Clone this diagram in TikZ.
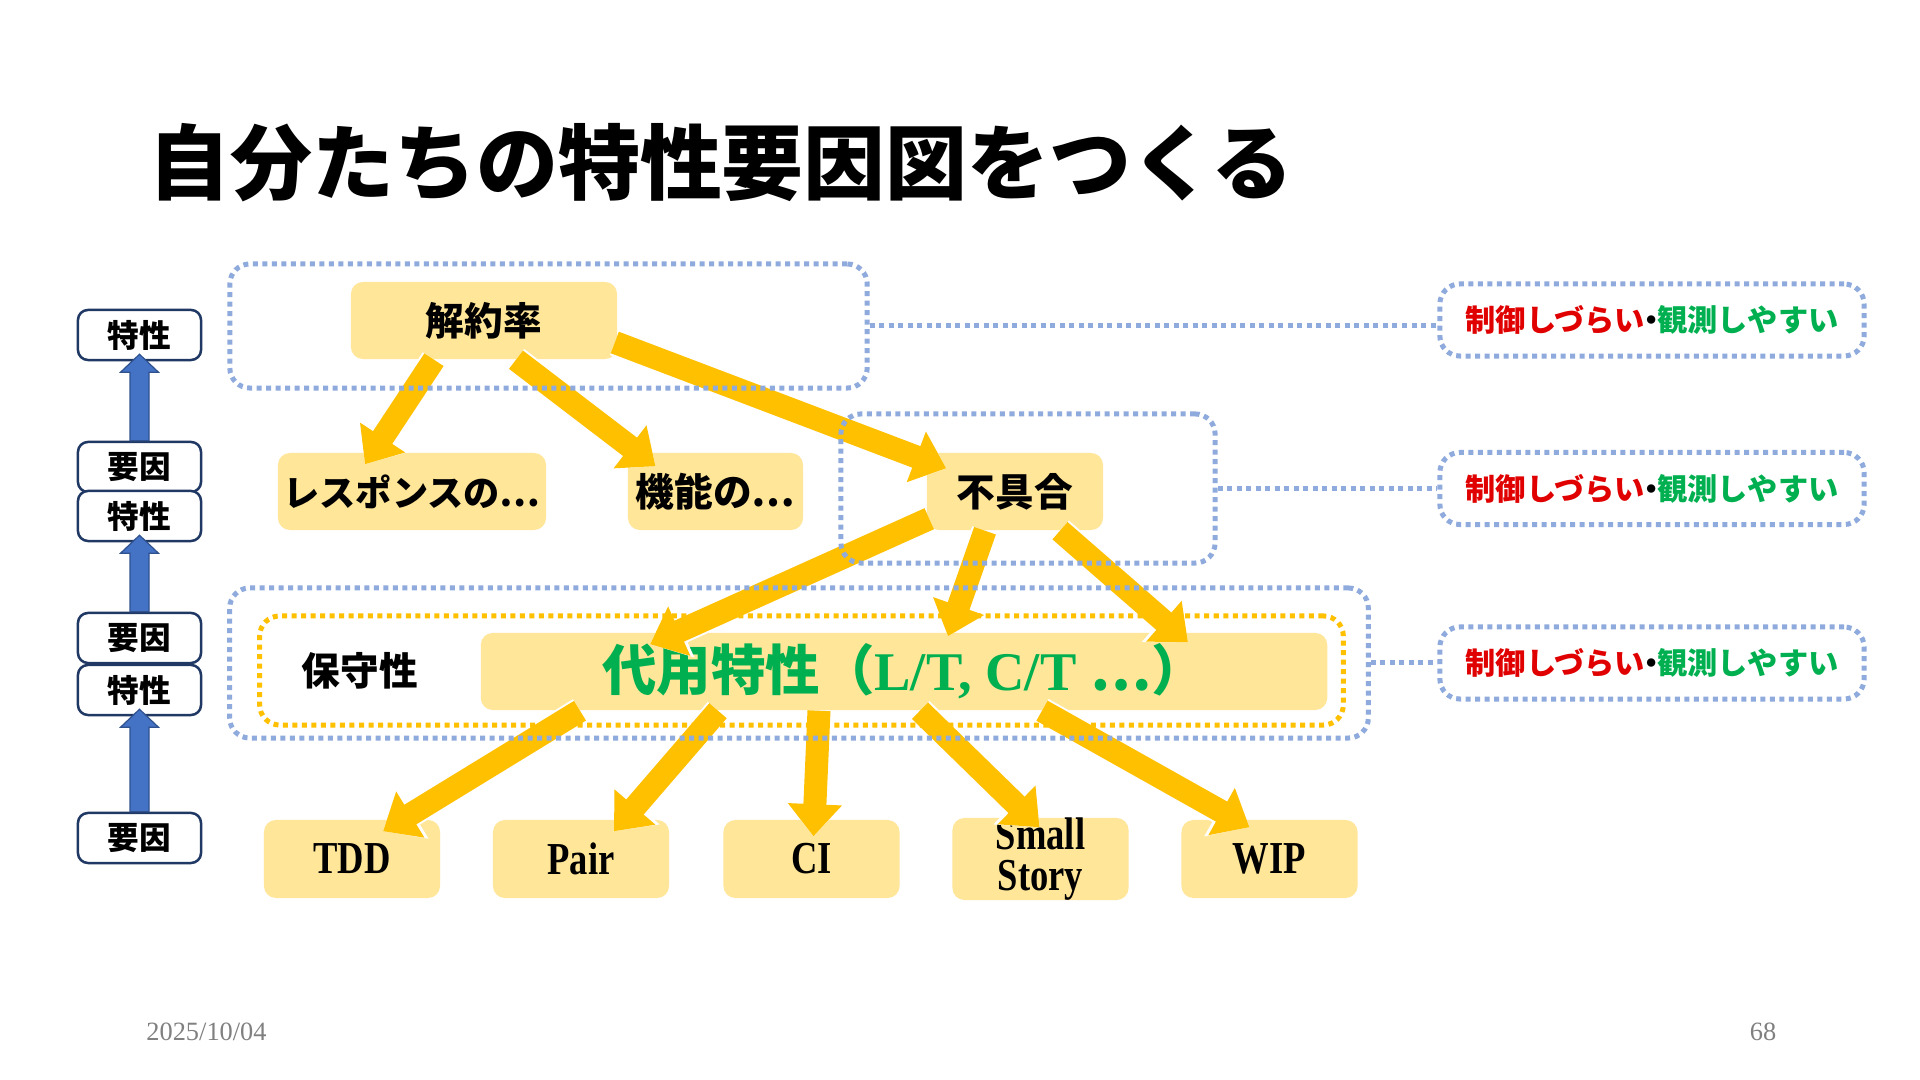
\documentclass[tikz,border=0pt]{standalone}
\usepackage{fontspec}
\setmainfont{Liberation Serif}
\newfontfamily\jp{Noto Sans CJK JP}
\newfontfamily\latin[FakeStretch=0.8]{Liberation Serif}
\usetikzlibrary{calc}
\usetikzlibrary{arrows.meta}

\definecolor{boxyellow}{HTML}{FFE699}
\definecolor{arrowyellow}{HTML}{FFC000}
\definecolor{dotblue}{HTML}{8FAADC}
\definecolor{navy}{HTML}{203864}
\definecolor{upblue}{HTML}{4472C4}
\definecolor{upedge}{HTML}{2F528F}
\definecolor{okgreen}{HTML}{00B050}
\definecolor{ngred}{HTML}{E00000}

\tikzset{
  ybox/.style={fill=boxyellow, rounded corners=0.12cm, minimum height=0.77cm, inner sep=0pt,
    font=\jp\bfseries\fontsize{11pt}{11pt}\selectfont},
  lbox/.style={ybox, minimum width=1.76cm, minimum height=0.78cm, align=center,
    font=\latin\bfseries\fontsize{13pt}{11.5pt}\selectfont},
  kbox/.style={draw=navy, line width=0.025cm, fill=white, rounded corners=0.1cm,
    minimum width=1.23cm, minimum height=0.5cm, inner sep=0pt,
    font=\jp\bfseries\fontsize{9pt}{9pt}\selectfont},
  grp/.style={draw=dotblue, line width=0.05cm, dash pattern=on 0.05cm off 0.045cm,
    rounded corners=0.2cm, inner sep=0pt},
  grpline/.style={draw=dotblue, line width=0.05cm, dash pattern=on 0.05cm off 0.045cm},
  ctlbox/.style={grp, minimum width=4.24cm, minimum height=0.72cm,
    font=\jp\bfseries\fontsize{8.6pt}{8.6pt}\selectfont},
  yarrow/.style={draw=arrowyellow, line width=0.23cm, -{Triangle[width=0.52cm,length=0.32cm]},
    preaction={draw=white, line width=0.27cm, -{Triangle[width=0.58cm,length=0.35cm]}}}
}

\newcommand{\ctltext}{{\color{ngred}制御しづらい}\kern-0.3em・\kern-0.3em{\color{okgreen}観測しやすい}}

\newcommand{\blockup}[2]{
    \draw[upedge, fill=upblue, line width=0.012cm]
      ($(#1.north)+(-9.5,0)$) -- ($(#2.south)+(-9.5,11)$) -- ($(#2.south)+(-19,11)$)
      -- ($(#2.south)+(0,-7)$) -- ($(#2.south)+(19,11)$) -- ($(#2.south)+(9.5,11)$)
      -- ($(#1.north)+(9.5,0)$) -- cycle;
}

\begin{document}
\begin{tikzpicture}[x=0.01cm, y=-0.01cm]
\fill[white] (0,0) rectangle (1920,1080);
\useasboundingbox (0,0) rectangle (1920,1080);

\node[anchor=west, font=\jp\bfseries\fontsize{23.3pt}{23.3pt}\selectfont] (title) at (136,163) {自分たちの特性要因図をつくる};

% left legend
\node[kbox] (tok1) at (139.5,335) {特性};
\node[kbox] (you1) at (139.5,467) {要因};
\node[kbox] (tok2) at (139.5,516) {特性};
\node[kbox] (you2) at (139.5,638) {要因};
\node[kbox] (tok3) at (139.5,690) {特性};
\node[kbox] (you3) at (139.5,838) {要因};
\blockup{you1}{tok1}
\blockup{you2}{tok2}
\blockup{you3}{tok3}

% boxes
\node[ybox, minimum width=2.66cm] (kaiyaku) at (484,320.5) {解約率};
\node[ybox, minimum width=2.68cm, font=\jp\bfseries\fontsize{10.3pt}{10.3pt}\selectfont] (resp) at (412,491.5) {レスポンスの⋯};
\node[ybox, minimum width=1.75cm] (kinou) at (715.5,491.5) {機能の⋯};
\node[ybox, minimum width=1.76cm] (fuguai) at (1015,491.5) {不具合};
\node[ybox, minimum width=8.46cm, text=okgreen, font=\jp\bfseries\fontsize{15.5pt}{15.5pt}\selectfont] (daiyou) at (904,671.5)
  {代用特性（{\rmfamily\bfseries L/T, C/T }⋯）};
\node[font=\jp\bfseries\fontsize{11pt}{11pt}\selectfont] (hoshu) at (360,671) {保守性};

\node[lbox] (tdd) at (352,859) {TDD};
\node[lbox] (pair) at (581,859) {Pair};
\node[lbox] (ci) at (811.5,859) {CI};
\node[lbox] (small) at (1040.5,859) {Small\\Story};
\node[lbox] (wip) at (1269.5,859) {WIP};

% arrows
\draw[yarrow] ($(kaiyaku.south)+(-50,0)$) -- ($(resp.north)+(-47,12)$);
\draw[yarrow] ($(kaiyaku.south)+(32,0)$) -- ($(kinou.north)+(-60,14)$);
\draw[yarrow] ($(kaiyaku.east)+(-3,22)$) -- ($(fuguai.north west)+(20,16)$);
\draw[yarrow] ($(fuguai.south west)+(3,-12)$) -- ($(daiyou.north west)+(170,12)$);
\draw[yarrow] ($(fuguai.south)+(-30,0)$) -- ($(daiyou.north)+(44,4)$);
\draw[yarrow] ($(fuguai.south)+(45,0)$) -- ($(daiyou.north)+(284,10)$);

\draw[yarrow] ($(daiyou.south)+(-324,0)$) -- ($(tdd.north)+(31,12)$);
\draw[yarrow] ($(daiyou.south)+(-186,0)$) -- ($(pair.north)+(33,12)$);
\draw[yarrow] ($(daiyou.south)+(-85,0)$) -- ($(ci.north)+(2,17)$);
\draw[yarrow] ($(daiyou.south)+(16,0)$) -- ($(small.north)+(-1,10)$);
\draw[yarrow] ($(daiyou.south)+(138,0)$) -- ($(wip.north)+(-20,8)$);

% groups
\node[grp, minimum width=6.37cm, minimum height=1.24cm] (grpTop) at (548.5,326) {};
\node[grp, minimum width=3.74cm, minimum height=1.49cm] (grpMid) at (1028,488.5) {};
\node[grp, minimum width=11.38cm, minimum height=1.5cm] (grpLow) at (799,663) {};
\node[grp, draw=arrowyellow, minimum width=10.83cm, minimum height=1.09cm] (grpOrange) at (801.5,670.5) {};

\node[ctlbox] (ctl1) at (1652,320) {\ctltext};
\node[ctlbox] (ctl2) at (1652,488.5) {\ctltext};
\node[ctlbox] (ctl3) at (1652,663) {\ctltext};
\draw[grpline] (grpTop.east) -- (grpTop.east -| ctl1.west);
\draw[grpline] (grpMid.east) -- (grpMid.east -| ctl2.west);
\draw[grpline] (grpLow.east) -- (grpLow.east -| ctl3.west);

% footer
\node[anchor=west, text=gray, font=\fontsize{7.5pt}{7.5pt}\selectfont] (date) at (134,1032) {2025/10/04};
\node[text=gray, font=\fontsize{7.5pt}{7.5pt}\selectfont] (page) at (1763,1032) {68};
\end{tikzpicture}
\end{document}
